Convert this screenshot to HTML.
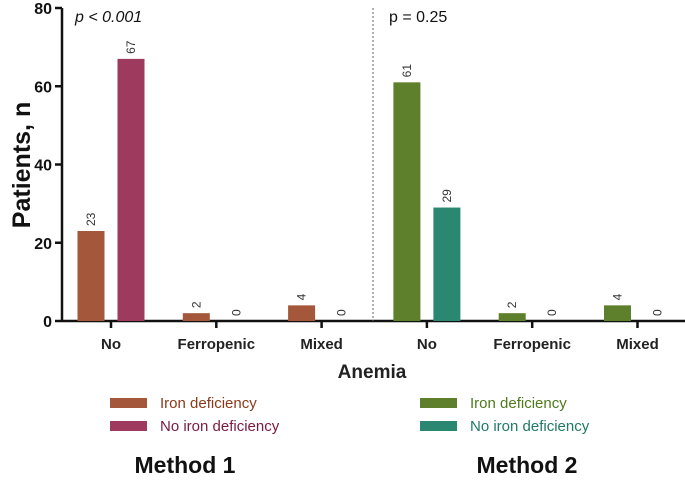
<!DOCTYPE html>
<html><head><meta charset="utf-8"><style>
body{margin:0;background:#fff;width:685px;height:477px;overflow:hidden;font-family:"Liberation Sans",Arial,sans-serif}
</style></head><body>
<svg id="chart" width="685" height="477" xmlns="http://www.w3.org/2000/svg" font-family="Liberation Sans, Arial, sans-serif"></svg>
<script>
const categories=["No","Ferropenic","Mixed","No","Ferropenic","Mixed"];
const ironDef=[23,2,4,61,2,4];
const noIronDef=[67,0,0,29,0,0];
const yTicks=[0,20,40,60,80];
const colorsA=["#a4573a","#a4573a","#a4573a","#5e7f2c","#5e7f2c","#5e7f2c"];
const colorsB=["#9f3a5f","#9f3a5f","#9f3a5f","#2a8872","#2a8872","#2a8872"];
const svg=document.getElementById('chart');
const NS="http://www.w3.org/2000/svg";
function mk(t,a,p){const e=document.createElementNS(NS,t);for(const k in a)e.setAttribute(k,a[k]);(p||svg).appendChild(e);return e;}
const x0=62,y0=321,yTop=8,ymax=80;
const y=v=>y0-(v/ymax)*(y0-yTop);
const cx=i=>111+i*105.3;
const bw=27,off=20;
let e=mk('line',{x1:x0,y1:yTop,x2:x0,y2:y0+1,stroke:'#111','stroke-width':2.5});


e=mk('line',{x1:x0,y1:y0,x2:685,y2:y0,stroke:'#111','stroke-width':2.5});


yTicks.forEach(t=>{
  let l=mk('line',{x1:x0-7,y1:y(t),x2:x0,y2:y(t),stroke:'#111','stroke-width':2.5});
  
  
  let tx=mk('text',{x:x0-10,y:y(t)+6,'text-anchor':'end','font-size':16,'font-weight':'bold',fill:'#111'});
  tx.textContent=t;
  
  
});
categories.forEach((c,i)=>{
  let l=mk('line',{x1:cx(i),y1:y0,x2:cx(i),y2:y0+7,stroke:'#111','stroke-width':2.5});
  
  
  let t=mk('text',{x:cx(i),y:y0+28,'text-anchor':'middle','font-size':15,'font-weight':'bold',fill:'#222'});
  t.textContent=c;
  
  
  [[ironDef[i],colorsA[i],-off,'bar-iron-deficiency'],[noIronDef[i],colorsB[i],off,'bar-no-iron-deficiency']].forEach(([v,col,o,nm])=>{
    const bx=cx(i)+o-bw/2;
    if(v>0){
      let r=mk('rect',{x:bx,y:y(v),width:bw,height:y0-y(v),fill:col});
      
      
    }
    const lx=cx(i)+o+4, ly=y(v)-5;
    let vt=mk('text',{x:lx,y:ly,'font-size':12,fill:'#333',transform:`rotate(-90 ${lx} ${ly})`});
    vt.textContent=v;
    
    
  });
});
e=mk('line',{x1:373,y1:8,x2:373,y2:y0,stroke:'#666','stroke-width':1,'stroke-dasharray':'2,2'});


e=mk('text',{x:75,y:22,'font-size':16,'font-style':'italic',fill:'#111'});e.textContent='p < 0.001';


e=mk('text',{x:389,y:22,'font-size':16,fill:'#111'});e.textContent='p = 0.25';


e=mk('text',{x:30,y:165,'font-size':25,'font-weight':'bold',fill:'#111','text-anchor':'middle',transform:'rotate(-90 30 165)'});e.textContent='Patients, n';


e=mk('text',{x:372,y:378,'font-size':19,'font-weight':'bold',fill:'#222','text-anchor':'middle'});e.textContent='Anemia';


const legend=[[110,404,'#a4573a','Iron deficiency','#8a3a1a'],[110,427,'#9f3a5f','No iron deficiency','#7a1a40'],[420,404,'#5e7f2c','Iron deficiency','#4f7a1e'],[420,427,'#2a8872','No iron deficiency','#1f7a66']];
legend.forEach(([lx,ly,c,t,tc])=>{
  let g=mk('g',{});
  
  
  mk('rect',{x:lx,y:ly-6,width:37,height:10,fill:c},g);
  let tx=mk('text',{x:lx+50,y:ly+4,'font-size':15,fill:tc},g);tx.textContent=t;
});
e=mk('text',{x:185,y:473,'font-size':23,'font-weight':'bold',fill:'#111','text-anchor':'middle'});e.textContent='Method 1';


e=mk('text',{x:527,y:473,'font-size':23,'font-weight':'bold',fill:'#111','text-anchor':'middle'});e.textContent='Method 2';


</script>
</body></html>
